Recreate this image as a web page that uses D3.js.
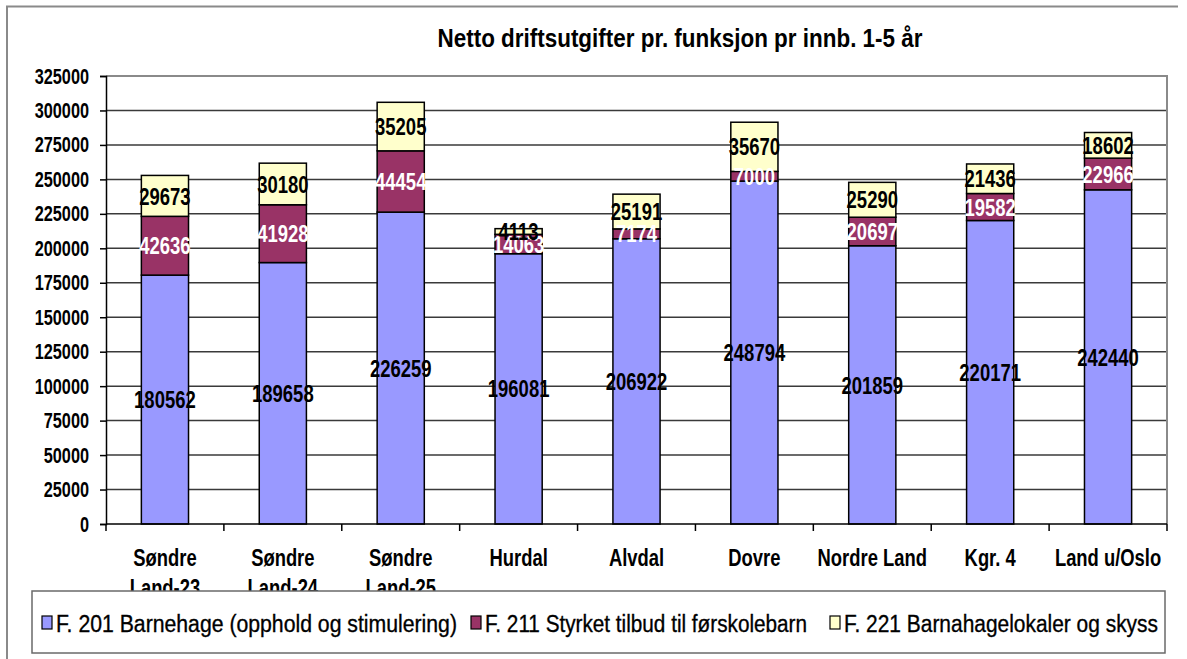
<!DOCTYPE html>
<html>
<head>
<meta charset="utf-8">
<script src="https://cdn.jsdelivr.net/npm/d3@7"></script>
<style>
  html, body { margin: 0; padding: 0; background: #fff; }
  svg { display: block; font-family: "Liberation Sans", Arial, sans-serif; }
</style>
</head>
<body>
<svg id="chart" width="1187" height="659"></svg>
<script>
// Netto driftsutgifter pr. funksjon pr innb. 1-5 år
const categories = [
  ["Søndre", "Land-23"],
  ["Søndre", "Land-24"],
  ["Søndre", "Land-25"],
  ["Hurdal"],
  ["Alvdal"],
  ["Dovre"],
  ["Nordre Land"],
  ["Kgr. 4"],
  ["Land u/Oslo"]
];
const f201 = [180562, 189658, 226259, 196081, 206922, 248794, 201859, 220171, 242440];
const f211 = [42636, 41928, 44454, 14063, 7174, 7000, 20697, 19582, 22966];
const f221 = [29673, 30180, 35205, 4113, 25191, 35670, 25290, 21436, 18602];
const seriesNames = [
  "F. 201 Barnehage (opphold og stimulering)",
  "F. 211 Styrket tilbud til førskolebarn",
  "F. 221 Barnahagelokaler og skyss"
];
const yTicks = [0, 25000, 50000, 75000, 100000, 125000, 150000, 175000, 200000,
                225000, 250000, 275000, 300000, 325000];
const title = "Netto driftsutgifter pr. funksjon pr innb. 1-5 år";

const colors = ["#9999FF", "#993366", "#FFFFCC"];
const labelColors = ["#000", "#fff", "#000"];
const keys = ["f201", "f211", "f221"];

const rows = categories.map((c, i) => ({
  cat: c.join(" "), lines: c, f201: f201[i], f211: f211[i], f221: f221[i]
}));

const svg = d3.select("#chart");
const plot = { left: 106, top: 76, right: 1167, bottom: 524 };

// Narrow glyphs: compress each text horizontally by factor k
function squeeze(sel, k) {
  sel.each(function () {
    const L = this.getComputedTextLength();
    d3.select(this).attr("textLength", L * k).attr("lengthAdjust", "spacingAndGlyphs");
  });
}

// outer frame
svg.append("path")
  .attr("d", "M7,659 V6.5 H1178")
  .attr("fill", "none").attr("stroke", "#8a8a8a").attr("stroke-width", 2);

// title
svg.append("text")
  .attr("x", 680).attr("y", 47)
  .attr("text-anchor", "middle")
  .attr("font-size", 26).attr("font-weight", "bold")
  .attr("textLength", 485).attr("lengthAdjust", "spacingAndGlyphs")
  .text(title);

const x = d3.scaleBand()
  .domain(rows.map(d => d.cat))
  .range([plot.left, plot.right])
  .paddingInner(0.6)
  .paddingOuter(0.3);

const y = d3.scaleLinear().domain([0, 325000]).range([plot.bottom, plot.top]);

// gridlines
svg.append("g")
  .selectAll("line")
  .data(yTicks.filter(t => t > 0 && t < 325000))
  .join("line")
  .attr("x1", plot.left).attr("x2", plot.right)
  .attr("y1", d => y(d)).attr("y2", d => y(d))
  .attr("stroke", "#3a3a3a").attr("stroke-width", 1.5);

// plot area border (top / right)
svg.append("path")
  .attr("d", `M${plot.left},${y(325000)} H${plot.right} V${plot.bottom}`)
  .attr("fill", "none").attr("stroke", "#8a8a8a").attr("stroke-width", 2);

// stacked bars
const stacked = d3.stack().keys(keys)(rows);
const layers = svg.append("g").selectAll("g")
  .data(stacked)
  .join("g")
  .attr("fill", (d, i) => colors[i]);

layers.selectAll("rect")
  .data(d => d)
  .join("rect")
  .attr("x", d => x(d.data.cat))
  .attr("width", x.bandwidth())
  .attr("y", d => y(d[1]))
  .attr("height", d => y(d[0]) - y(d[1]))
  .attr("stroke", "#000").attr("stroke-width", 1.5);

// value labels centred in each segment
stacked.forEach((layer, i) => {
  const t = svg.append("g").selectAll("text")
    .data(layer)
    .join("text")
    .attr("x", d => x(d.data.cat) + x.bandwidth() / 2)
    .attr("y", d => y((d[0] + d[1]) / 2))
    .attr("dy", "0.36em")
    .attr("text-anchor", "middle")
    .attr("font-size", 24).attr("font-weight", "bold")
    .attr("fill", labelColors[i])
    .text(d => d.data[keys[i]]);
  squeeze(t, 0.77);
});

// y axis
const yAxis = svg.append("g")
  .attr("transform", `translate(${plot.left},0)`)
  .call(d3.axisLeft(y).tickValues(yTicks).tickSize(6).tickPadding(11).tickFormat(d3.format("d")));
yAxis.select(".domain").attr("stroke", "#000").attr("stroke-width", 1.5);
yAxis.selectAll(".tick line").attr("stroke", "#000").attr("stroke-width", 1.5);
yAxis.selectAll(".tick text")
  .attr("font-size", 22).attr("font-weight", "bold")
  .attr("font-family", "Liberation Sans, Arial, sans-serif")
  .attr("fill", "#000");
squeeze(yAxis.selectAll(".tick text"), 0.74);

// x axis baseline with ticks between categories
const xa = svg.append("g");
xa.append("line")
  .attr("x1", plot.left).attr("x2", plot.right)
  .attr("y1", plot.bottom).attr("y2", plot.bottom)
  .attr("stroke", "#000").attr("stroke-width", 1.5);
xa.selectAll("line.tk")
  .data(d3.range(rows.length + 1))
  .join("line")
  .attr("class", "tk")
  .attr("x1", i => plot.left + i * x.step())
  .attr("x2", i => plot.left + i * x.step())
  .attr("y1", plot.bottom).attr("y2", plot.bottom + 7)
  .attr("stroke", "#000").attr("stroke-width", 1.5);

// category labels
const catText = xa.selectAll("text.cat")
  .data(rows)
  .join("text")
  .attr("class", "cat")
  .attr("text-anchor", "middle")
  .attr("font-size", 23).attr("font-weight", "bold");
catText.each(function (d) {
  const cx = x(d.cat) + x.bandwidth() / 2;
  d3.select(this).selectAll("tspan")
    .data(d.lines)
    .join("tspan")
    .attr("x", cx)
    .attr("y", (l, j) => 566 + j * 30)
    .text(l => l);
});
catText.selectAll("tspan").each(function () {
  const L = this.getComputedTextLength();
  d3.select(this).attr("textLength", L * 0.8).attr("lengthAdjust", "spacingAndGlyphs");
});

// legend
const legend = svg.append("g");
legend.append("rect")
  .attr("x", 32).attr("y", 591).attr("width", 1133).attr("height", 62)
  .attr("fill", "#fff").attr("stroke", "#6a6a6a").attr("stroke-width", 1.5);

const legendX = [42, 471, 830];
const legendW = [401, 322, 314];
const items = legend.selectAll("g.item")
  .data(seriesNames)
  .join("g")
  .attr("class", "item")
  .attr("transform", (d, i) => `translate(${legendX[i]},0)`);
items.append("rect")
  .attr("x", 0).attr("y", 616).attr("width", 10).attr("height", 13)
  .attr("fill", (d, i) => colors[i])
  .attr("stroke", "#000").attr("stroke-width", 1.2);
// legend text: tall, narrow glyphs
items.append("text")
  .attr("transform", "translate(14,632) scale(1,1.14)")
  .attr("font-size", 21)
  .attr("stroke", "#000").attr("stroke-width", 0.3)
  .attr("textLength", (d, i) => legendW[i]).attr("lengthAdjust", "spacingAndGlyphs")
  .text(d => d);
</script>
</body>
</html>
